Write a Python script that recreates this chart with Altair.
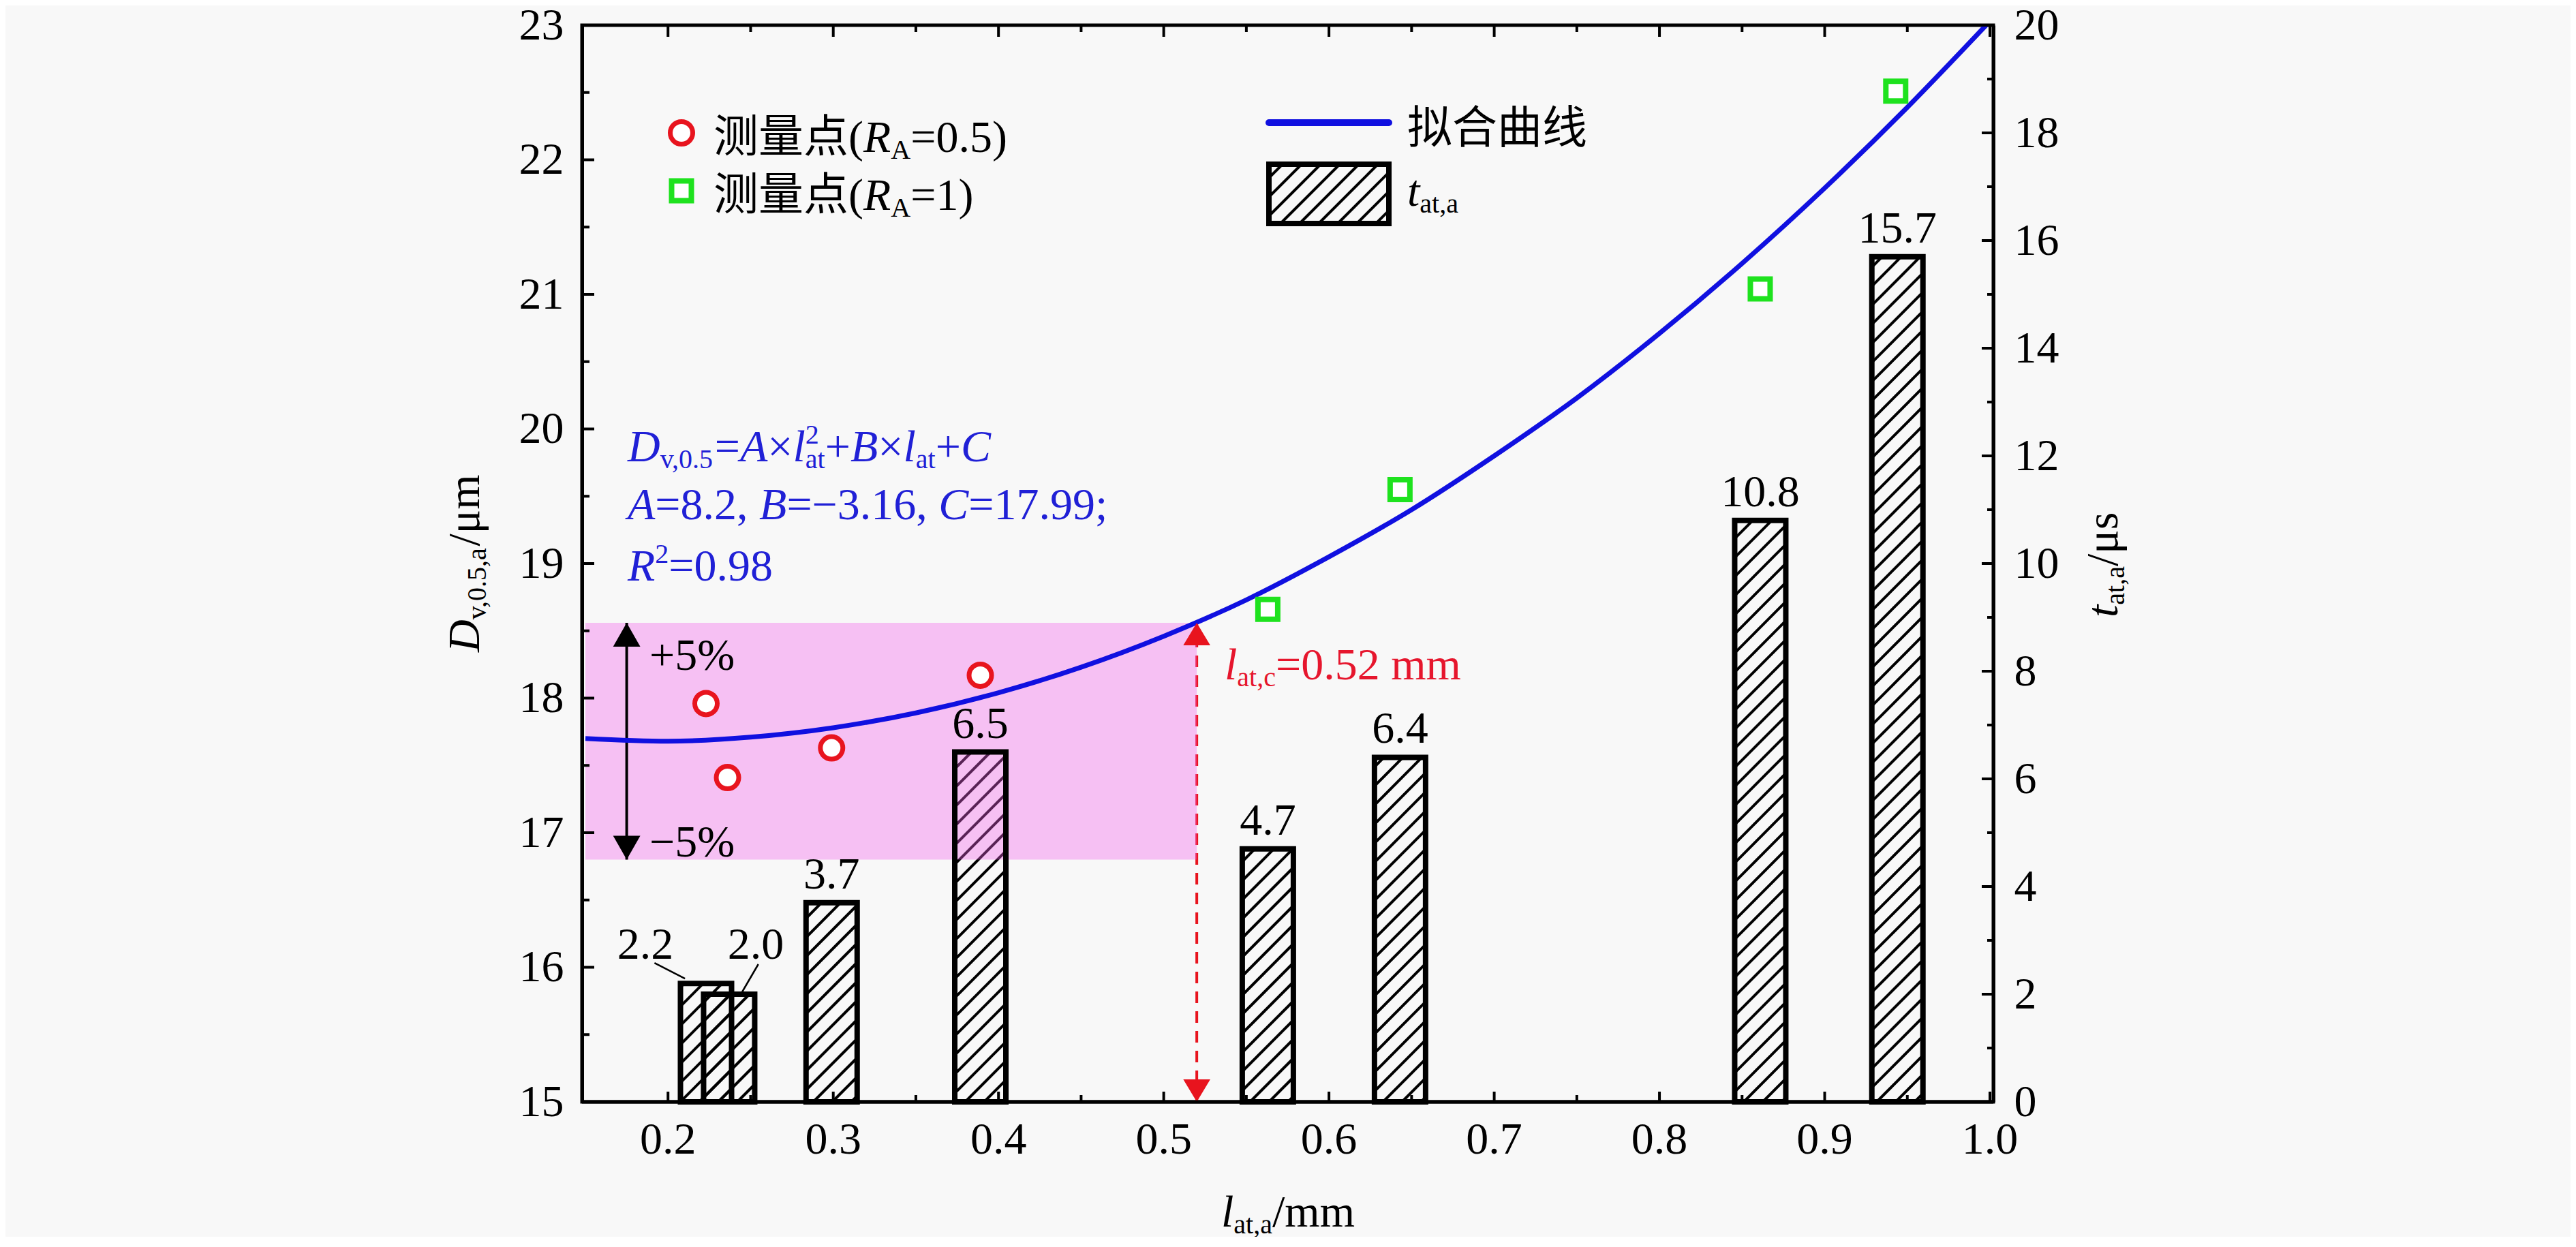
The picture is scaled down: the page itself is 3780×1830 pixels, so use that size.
import math
import altair as alt
import pandas as pd

# ---------------- values ----------------
BAR_X = [0.223, 0.237, 0.299, 0.389, 0.563, 0.643, 0.861, 0.944]      # l_at,a / mm
BAR_T = [2.2, 2.0, 3.7, 6.5, 4.7, 6.4, 10.8, 15.7]                     # t_at,a / us
BAR_LABELS = ["2.2", "2.0", "3.7", "6.5", "4.7", "6.4", "10.8", "15.7"]
RED_X = [0.223, 0.236, 0.299, 0.389]                                   # R_A = 0.5
RED_D = [17.96, 17.41, 17.63, 18.17]
GREEN_X = [0.563, 0.643, 0.861, 0.943]                                 # R_A = 1
GREEN_D = [18.66, 19.55, 21.04, 22.51]
FIT_X = [0.15, 0.20, 0.25, 0.30, 0.35, 0.40, 0.45, 0.50, 0.55, 0.60,
         0.65, 0.70, 0.75, 0.80, 0.85, 0.90, 0.95, 1.00]
FIT_D = [17.70, 17.68, 17.71, 17.78, 17.89, 18.04, 18.23, 18.46, 18.73, 19.05,
         19.40, 19.80, 20.23, 20.71, 21.23, 21.79, 22.39, 23.03]
L_C = [0.52]            # critical length
D_C = [18.56]           # curve value at critical length
BAND_D = [16.80, 18.56]  # -5% .. +5%
PM_X = [0.175]          # position of the +-5% arrow

X_DOMAIN = [0.15, 1.0]
YL_DOMAIN = [15, 23]
YR_DOMAIN = [0, 20]
X_LABELS = [0.2, 0.3, 0.4, 0.5, 0.6, 0.7, 0.8, 0.9, 1.0]
X_MINOR = [0.25, 0.35, 0.45, 0.55, 0.65, 0.75, 0.85, 0.95]
YL_LABELS = [15, 16, 17, 18, 19, 20, 21, 22, 23]
YL_MINOR = [15.5, 16.5, 17.5, 18.5, 19.5, 20.5, 21.5, 22.5]
YR_LABELS = [0, 2, 4, 6, 8, 10, 12, 14, 16, 18, 20]
YR_MINOR = [1, 3, 5, 7, 9, 11, 13, 15, 17, 19]

# ---------------- layout / style ----------------
W, H = 2071, 1580
FONT = "Liberation Serif, Noto Sans CJK SC"
FS, SUB = 66, 40
BG = "#f8f8f8"
RED = "#e8141e"
GREEN = "#1ee21e"
BLUE = "#1010e0"
TXT_BLUE = "#2020d6"
TXT_RED = "#e6162d"
BAR_W = 75
HATCH = 28

XS = alt.Scale(domain=X_DOMAIN, nice=False, zero=False)
YLS = alt.Scale(domain=YL_DOMAIN, nice=False, zero=False)
YRS = alt.Scale(domain=YR_DOMAIN, nice=False, zero=False)

one = pd.DataFrame({"k": [0]})


def XQ(f):
    return alt.X(f, type="quantitative", scale=XS, axis=None)


def YL(f):
    return alt.Y(f, type="quantitative", scale=YLS, axis=None)


def YR(f):
    return alt.Y(f, type="quantitative", scale=YRS, axis=None)


# ---------------- rich text helper ----------------
REG = {' ': .25, '(': .333, ')': .333, '+': .564, ',': .25, '.': .25, '/': .278,
       ';': .278, '=': .564, '%': .833, 'a': .444, 'c': .444, 'm': .778, 's': .389,
       't': .278, 'v': .5, 'A': .722, 'μ': .576, '×': .564, '−': .564}
ITA = {'A': .611, 'B': .611, 'C': .667, 'D': .722, 'R': .611, 'l': .278, 't': .278}


def tw(s, italic, size):
    w = 0.0
    for ch in s:
        if ord(ch) > 0x2E80:
            w += 1.0
        elif ch.isdigit():
            w += 0.5
        else:
            w += (ITA if italic else REG).get(ch, 0.5)
    return w * size


def rich(x0, y0, runs, color, angle=0):
    out = []
    pos = 0.0
    for text, kind in runs:
        small = kind in ("b", "p", "p0")
        size = SUB if small else FS
        italic = kind == "i"
        shift = 10 if kind == "b" else (-26 if kind in ("p", "p0") else 0)
        if angle == 0:
            x, y = x0 + pos, y0 + shift
        else:
            x, y = x0 + shift, y0 - pos
        out.append(
            alt.Chart(one).mark_text(
                text=text, align="left", baseline="alphabetic", font=FONT,
                fontSize=size, fontStyle="italic" if italic else "normal",
                color=color, angle=angle,
            ).encode(x=alt.value(x), y=alt.value(y))
        )
        if kind != "p0":
            pos += tw(text, italic, size)
    return out


# ---------------- derived tables ----------------
bar_df = pd.DataFrame({"x": BAR_X, "t": BAR_T, "label": BAR_LABELS, "i": range(len(BAR_X))})
red_df = pd.DataFrame({"x": RED_X, "d": RED_D})
green_df = pd.DataFrame({"x": GREEN_X, "d": GREEN_D})
fit_df = pd.DataFrame({"x": FIT_X, "d": FIT_D})
band_df = pd.DataFrame({"x": [X_DOMAIN[0]], "x2": L_C, "d": [BAND_D[0]], "d2": [BAND_D[1]]})
pm_df = pd.DataFrame({"x": PM_X, "d": [BAND_D[0]], "d2": [BAND_D[1]]})
crit_df = pd.DataFrame({"x": L_C, "d": [YL_DOMAIN[0]], "d2": D_C})

PXX = W / (X_DOMAIN[1] - X_DOMAIN[0])
PXT = H / (YR_DOMAIN[1] - YR_DOMAIN[0])

# hatch segments inside each bar (45 degrees in screen space)
hrows = []
for bx, bt in zip(BAR_X, BAR_T):
    cx = (bx - X_DOMAIN[0]) * PXX
    xl, xr = cx - BAR_W / 2, cx + BAR_W / 2
    top = bt * PXT
    m0 = math.floor(-xr / HATCH) - 1
    m1 = math.ceil((top - xl) / HATCH) + 1
    for m in range(m0, m1 + 1):
        b = m * HATCH
        a0, a1 = max(xl, -b), min(xr, top - b)
        if a1 - a0 > 2:
            hrows.append({"x": X_DOMAIN[0] + a0 / PXX, "t": (a0 + b) / PXT,
                          "x2": X_DOMAIN[0] + a1 / PXX, "t2": (a1 + b) / PXT})
hatch_df = pd.DataFrame(hrows)

# leader lines for the two overlapping bars (pixel offsets from bar centre/top)
LEAD = {0: ((-76, -30), (-31, -7)), 1: ((43, -44), (19, -3))}
lrows = []
for i, ((dx0, dy0), (dx1, dy1)) in LEAD.items():
    lrows.append({"x": BAR_X[i] + dx0 / PXX, "t": BAR_T[i] - dy0 / PXT,
                  "x2": BAR_X[i] + dx1 / PXX, "t2": BAR_T[i] - dy1 / PXT})
lead_df = pd.DataFrame(lrows)

# legend hatch box (pixel coordinates inside the plot)
LB = (1008, 204, 1184, 291)
lg = []
for m in range(0, 60):
    b = m * HATCH
    a0, a1 = max(LB[0], b - LB[3]), min(LB[2], b - LB[1])
    if a1 - a0 > 2:
        lg.append({"px": a0, "py": -a0 + b, "px2": a1, "py2": -a1 + b})
leg_hatch_df = pd.DataFrame(lg)

# ---------------- axes ----------------
YL_AXIS = alt.Axis(values=YL_LABELS, format="d", orient="left", ticks=False, tickSize=0,
                   domain=True, domainColor="black", domainWidth=5, labelFont=FONT,
                   labelFontSize=FS, labelColor="black", labelPadding=27,
                   labelFlush=False, labelOverlap=False, grid=False, title=None, zindex=1)
YR_AXIS = alt.Axis(values=YR_LABELS, format="d", orient="right", ticks=False, tickSize=0,
                   domain=True, domainColor="black", domainWidth=5, labelFont=FONT,
                   labelFontSize=FS, labelColor="black", labelPadding=30,
                   labelFlush=False, labelOverlap=False, grid=False, title=None, zindex=1)

# ---------------- layers ----------------
layers = []

layers.append(alt.Chart(hatch_df).mark_rule(color="black", strokeWidth=4).encode(
    x=XQ("x"), x2=alt.X2("x2"), y=YR("t"), y2=alt.Y2("t2")))

layers.append(alt.Chart(crit_df).mark_rule(color=RED, strokeWidth=4, strokeDash=[17, 12]).encode(
    x=XQ("x"), y=YL("d"), y2=alt.Y2("d2")))

layers.append(alt.Chart(band_df).mark_rect(color="#f45feb", opacity=0.36).encode(
    x=XQ("x"), x2=alt.X2("x2"), y=YL("d"), y2=alt.Y2("d2")))

layers.append(alt.Chart(bar_df).mark_bar(size=BAR_W, orient="vertical", fill="white",
                                         fillOpacity=0, stroke="black", strokeWidth=8).encode(
    x=XQ("x"),
    y=alt.Y("t:Q", scale=YRS, axis=YR_AXIS)))

layers.append(alt.Chart(pm_df).mark_rule(color="black", strokeWidth=4).encode(
    x=XQ("x"), y=YL("d"), y2=alt.Y2("d2")))

layers.append(alt.Chart(fit_df).mark_line(color=BLUE, strokeWidth=7, interpolate="monotone",
                                          clip=True).encode(x=XQ("x"), y=YL("d")))

UP = "M0,0L-0.57,1L0.57,1Z"
DOWN = "M0,0L-0.57,-1L0.57,-1Z"
layers.append(alt.Chart(pm_df).mark_point(shape=UP, size=4900, filled=True, color="black",
                                          opacity=1, strokeWidth=0).encode(x=XQ("x"), y=YL("d2")))
layers.append(alt.Chart(pm_df).mark_point(shape=DOWN, size=4900, filled=True, color="black",
                                          opacity=1, strokeWidth=0).encode(x=XQ("x"), y=YL("d")))
layers.append(alt.Chart(crit_df).mark_point(shape="M0,0L-0.6,1L0.6,1Z", size=4356, filled=True,
                                            color=RED, opacity=1, strokeWidth=0).encode(
    x=XQ("x"), y=YL("d2")))
layers.append(alt.Chart(crit_df).mark_point(shape="M0,0L-0.6,-1L0.6,-1Z", size=4356, filled=True,
                                            color=RED, opacity=1, strokeWidth=0).encode(
    x=XQ("x"), y=YL("d")))

layers.append(alt.Chart(red_df).mark_point(shape="circle", size=1089, filled=True, fill="white",
                                           stroke=RED, strokeWidth=7, opacity=1).encode(
    x=XQ("x"), y=alt.Y("d:Q", scale=YLS, axis=YL_AXIS)))
layers.append(alt.Chart(green_df).mark_point(shape="square", size=841, filled=True, fill="white",
                                             stroke=GREEN, strokeWidth=8, opacity=1).encode(
    x=XQ("x"), y=YL("d")))

# bar labels
layers.append(alt.Chart(bar_df).transform_filter("datum.i >= 2").mark_text(
    font=FONT, fontSize=FS, color="black", baseline="alphabetic", align="center", dy=-21).encode(
    x=XQ("x"), y=YR("t"), text="label:N"))
layers.append(alt.Chart(bar_df).transform_filter("datum.i == 0").mark_text(
    font=FONT, fontSize=FS, color="black", baseline="alphabetic", align="center", dx=-89, dy=-36).encode(
    x=XQ("x"), y=YR("t"), text="label:N"))
layers.append(alt.Chart(bar_df).transform_filter("datum.i == 1").mark_text(
    font=FONT, fontSize=FS, color="black", baseline="alphabetic", align="center", dx=39, dy=-52).encode(
    x=XQ("x"), y=YR("t"), text="label:N"))
layers.append(alt.Chart(lead_df).mark_rule(color="black", strokeWidth=2.5).encode(
    x=XQ("x"), x2=alt.X2("x2"), y=YR("t"), y2=alt.Y2("t2")))


# inward ticks
def tick_df(v):
    return pd.DataFrame({"v": v})


for vals, ln in ((X_LABELS, 15), (X_MINOR, 10)):
    layers.append(alt.Chart(tick_df(vals)).mark_rule(color="black", strokeWidth=4).encode(
        x=XQ("v"), y=alt.value(H), y2=alt.value(H - ln)))
for vals, ln in ((X_LABELS, 17), (X_MINOR, 10)):
    layers.append(alt.Chart(tick_df(vals)).mark_rule(color="black", strokeWidth=4).encode(
        x=XQ("v"), y=alt.value(0), y2=alt.value(ln)))
for vals, ln in ((YL_LABELS, 18), (YL_MINOR, 11)):
    layers.append(alt.Chart(tick_df(vals)).mark_rule(color="black", strokeWidth=4).encode(
        y=YL("v"), x=alt.value(0), x2=alt.value(ln)))
for vals, ln in ((YR_LABELS, 17), (YR_MINOR, 9)):
    layers.append(alt.Chart(tick_df(vals)).mark_rule(color="black", strokeWidth=4).encode(
        y=YR("v"), x=alt.value(W), x2=alt.value(W - ln)))

# bottom axis: domain line and tick labels
layers.append(alt.Chart(one).mark_rule(color="black", strokeWidth=5).encode(
    x=alt.value(0), x2=alt.value(W), y=alt.value(H)))
layers.append(alt.Chart(tick_df(X_LABELS)).mark_text(
    font=FONT, fontSize=FS, color="black", baseline="alphabetic", align="center").encode(
    x=XQ("v"), y=alt.value(H + 76), text=alt.Text("v:Q", format=".1f")))

# texts
layers += rich(67, 640, [("D", "i"), ("v,0.5", "b"), ("=", "n"), ("A", "i"), ("×", "n"),
                         ("l", "i"), ("2", "p0"), ("at", "b"), ("+", "n"), ("B", "i"),
                         ("×", "n"), ("l", "i"), ("at", "b"), ("+", "n"), ("C", "i")], TXT_BLUE)
layers += rich(67, 725, [("A", "i"), ("=8.2,", "n"), ("B", "i"), ("=−3.16,", "n"),
                         ("C", "i"), ("=17.99;", "n")], TXT_BLUE) if False else []
# second equation line with explicit spacing after commas
_pos = 67
for txt, kind in [("A", "i"), ("=8.2,", "n"), (" ", "s"), ("B", "i"), ("=−3.16,", "n"),
                  (" ", "s"), ("C", "i"), ("=17.99;", "n")]:
    if kind != "s":
        layers += rich(_pos, 725, [(txt, kind)], TXT_BLUE)
    _pos += tw(txt, kind == "i", FS)
layers += rich(67, 815, [("R", "i"), ("2", "p"), ("=0.98", "n")], TXT_BLUE)
layers += rich(943, 960, [("l", "i"), ("at,c", "b"), ("=0.52 mm", "n")], TXT_RED)
layers += rich(99, 946, [("+5%", "n")], "black")
layers += rich(99, 1220, [("−5%", "n")], "black")

# axis titles
layers += rich(938, 1763, [("l", "i"), ("at,a", "b"), ("/mm", "n")], "black")
layers += rich(-151, 920, [("D", "i"), ("v,0.5,a", "b"), ("/μm", "n")], "black", angle=270)
layers += rich(2253, 869, [("t", "i"), ("at,a", "b"), ("/μs", "n")], "black", angle=270)

# legend
layers.append(alt.Chart(one).mark_point(shape="circle", size=1089, filled=True, fill="white",
                                        stroke=RED, strokeWidth=7, opacity=1).encode(
    x=alt.value(146), y=alt.value(158)))
layers.append(alt.Chart(one).mark_point(shape="square", size=841, filled=True, fill="white",
                                        stroke=GREEN, strokeWidth=8, opacity=1).encode(
    x=alt.value(146), y=alt.value(243)))
layers += rich(193, 186, [("测量点(", "n"), ("R", "i"), ("A", "b"), ("=0.5)", "n")], "black")
layers += rich(193, 271, [("测量点(", "n"), ("R", "i"), ("A", "b"), ("=1)", "n")], "black")
layers.append(alt.Chart(one).mark_rule(color=BLUE, strokeWidth=10, strokeCap="round").encode(
    x=alt.value(1008), x2=alt.value(1184), y=alt.value(143)))
layers.append(alt.Chart(leg_hatch_df).mark_rule(color="black", strokeWidth=4).encode(
    x=alt.X("px:Q", scale=None, axis=None), x2=alt.X2("px2"),
    y=alt.Y("py:Q", scale=None, axis=None), y2=alt.Y2("py2")))
layers.append(alt.Chart(one).mark_rect(fillOpacity=0, stroke="black", strokeWidth=8).encode(
    x=alt.value(LB[0]), x2=alt.value(LB[2]), y=alt.value(LB[1]), y2=alt.value(LB[3])))
layers += rich(1211, 173, [("拟合曲线", "n")], "black")
layers += rich(1211, 265, [("t", "i"), ("at,a", "b")], "black")

chart = alt.layer(*layers).resolve_scale(y="independent").properties(
    width=W, height=H,
    autosize=alt.AutoSizeParams(type="none"),
    padding={"left": 846, "top": 29, "right": 847, "bottom": 198},
    background=BG,
).configure_view(stroke="black", strokeWidth=5)

chart.save("out.html", embed_options={"renderer": "svg", "actions": False})
